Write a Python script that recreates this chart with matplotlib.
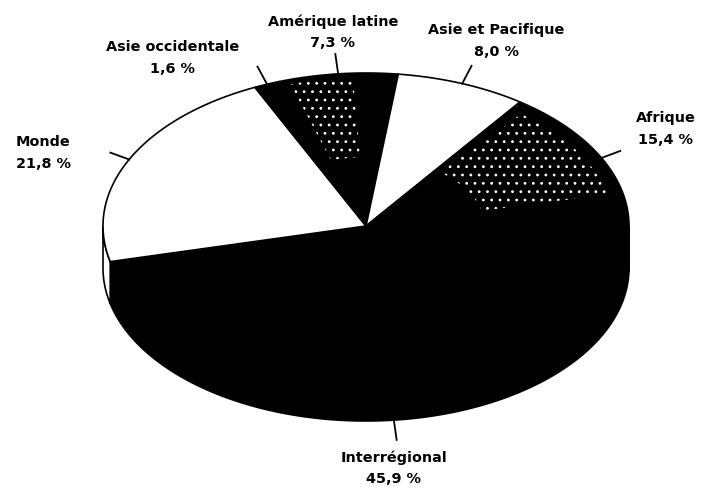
import numpy as np
import matplotlib
matplotlib.use("Agg")
import matplotlib.pyplot as plt
from matplotlib.patches import Polygon

categories = ["Interrégional", "Monde", "Asie occidentale", "Amérique latine", "Asie et Pacifique", "Afrique"]
shares = [45.9, 21.8, 1.6, 7.3, 8.0, 15.4]
share_labels = ["45,9 %", "21,8 %", "1,6 %", "7,3 %", "8,0 %", "15,4 %"]

START = 358.7   # parametric angle where the first slice starts, running clockwise
CX, CY, RX, RY, DEPTH = 366, 226, 263, 153, 42

plt.rcParams["font.family"] = ["DejaVu Sans"]
plt.rcParams["hatch.linewidth"] = 0.8
fig = plt.figure(figsize=(7.02, 4.91), dpi=100)
ax = fig.add_axes([0, 0, 1, 1])
ax.set_xlim(0, 702)
ax.set_ylim(491, 0)
ax.axis("off")

def rim(a1, a2, dy=0, n=120, k=1.0):
    t = np.radians(np.linspace(a1, a2, n))
    return np.column_stack([CX + k * RX * np.cos(t), CY - k * RY * np.sin(t) + dy])

fills = ["black", "white", "black", "black", "white", "black"]
# speckle band per slice: (angle trim at the start, angle trim at the end, inner radius, outer radius)
speckle = [None, None, None, (2, 10, 0.45, 0.97), None, (3, 14, 0.45, 0.94)]
label_xy = [(394, 468), (43, 153), (173, 58), (333, 32), (496, 41), (666, 129)]

ang = START
bounds = []
for v in shares:
    bounds.append((ang, ang - v * 3.6))
    ang -= v * 3.6

# side wall
for (a1, a2), fc in zip(bounds, fills):
    lo, hi = a2, a1
    for shift in (0, -360, 360):
        l, h = max(lo + shift, 180), min(hi + shift, 360)
        if l < h:
            top = rim(l, h)
            bottom = rim(h, l, DEPTH)
            ax.add_patch(Polygon(np.vstack([top, bottom]), closed=True, fc=fc, ec="black", lw=1.2, zorder=1))

# top faces
for (a1, a2), fc, sp in zip(bounds, fills, speckle):
    pts = np.vstack([[CX, CY], rim(a1, a2)])
    ax.add_patch(Polygon(pts, closed=True, fc=fc, ec="black", lw=1.2, zorder=2))
    if sp:
        t1, t2, r0, r1 = sp
        band = np.vstack([rim(a1 - t1, a2 + t2, k=r1), rim(a2 + t2, a1 - t1, k=r0)])
        ax.add_patch(Polygon(band, closed=True, fc="none", ec="white", lw=0, hatch="..", zorder=3))

# leader lines and labels
for (a1, a2), cat, lab, (lx, ly) in zip(bounds, categories, share_labels, label_xy):
    mid = (a1 + a2) / 2
    t = np.radians(mid)
    x0 = CX + RX * np.cos(t)
    y0 = CY - RY * np.sin(t) + (DEPTH if np.sin(t) < 0 else 0)
    dx, dy = np.cos(t), -np.sin(t) * 0.75
    n = np.hypot(dx, dy)
    ax.plot([x0, x0 + 20 * dx / n], [y0, y0 + 20 * dy / n], color="black", lw=1.3, zorder=4)
    ax.text(lx, ly, f"{cat}\n{lab}", ha="center", va="center", fontsize=10.4,
            fontweight="bold", color="black", linespacing=1.65, zorder=5)

fig.savefig("out.png", dpi=100)
